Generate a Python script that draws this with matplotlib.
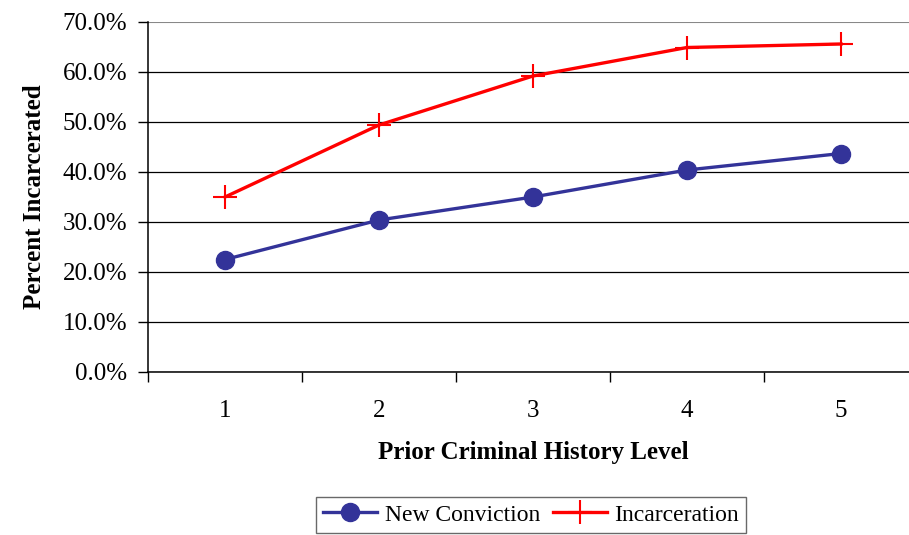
import matplotlib
matplotlib.use("Agg")
import matplotlib.pyplot as plt
from matplotlib.ticker import PercentFormatter, FixedLocator

levels = [1, 2, 3, 4, 5]
new_conviction = [22.5, 30.4, 35.0, 40.4, 43.7]
incarceration = [35.0, 49.4, 59.2, 64.9, 65.6]

plt.rcParams["font.family"] = ["Liberation Serif", "DejaVu Serif"]

fig = plt.figure(figsize=(9.09, 5.35), dpi=100)
ax = fig.add_axes([148 / 909, 1 - 372 / 535, 770 / 909, 350 / 535])

ax.plot(levels, new_conviction, color="#333399", lw=2.4, marker="o",
        ms=13, label="New Conviction", zorder=3)
ax.plot(levels, incarceration, color="#ff0000", lw=2.4, marker="+",
        ms=17, mew=1.5, label="Incarceration", zorder=3)

ax.set_xlim(0.5, 5.5)
ax.set_ylim(0, 70)
ax.set_yticks(range(0, 71, 10))
ax.yaxis.set_major_formatter(PercentFormatter(decimals=1))
ax.set_xticks(levels)
ax.xaxis.set_minor_locator(FixedLocator([0.5, 1.5, 2.5, 3.5, 4.5, 5.5]))
ax.tick_params(axis="x", which="major", length=0, pad=20, labelsize=18)
ax.tick_params(axis="x", which="minor", length=7, direction="out", width=1)
ax.tick_params(axis="y", length=7, direction="out", width=1, labelsize=18, pad=8)

ax.grid(axis="y", color="black", lw=0.9)
ax.get_ygridlines()[-1].set_color("#888888")
ax.get_ygridlines()[-1].set_linewidth(1.5)
for sp in ["top", "right"]:
    ax.spines[sp].set_visible(False)
for sp in ["left", "bottom"]:
    ax.spines[sp].set_linewidth(1.1)
ax.set_axisbelow(True)

ax.set_xlabel("Prior Criminal History Level", fontsize=18, fontweight="bold", labelpad=14)
ax.set_ylabel("Percent Incarcerated", fontsize=18, fontweight="bold", labelpad=12)

leg = fig.legend(loc="upper center", bbox_to_anchor=(531 / 909, 1 - 497 / 535),
                 ncol=2, fontsize=17, frameon=True, fancybox=False,
                 edgecolor="#444444", borderpad=0.3, handlelength=2.3,
                 columnspacing=0.55, handletextpad=0.3, borderaxespad=0)
leg.get_frame().set_linewidth(1.0)

fig.savefig("out.png", dpi=100)
